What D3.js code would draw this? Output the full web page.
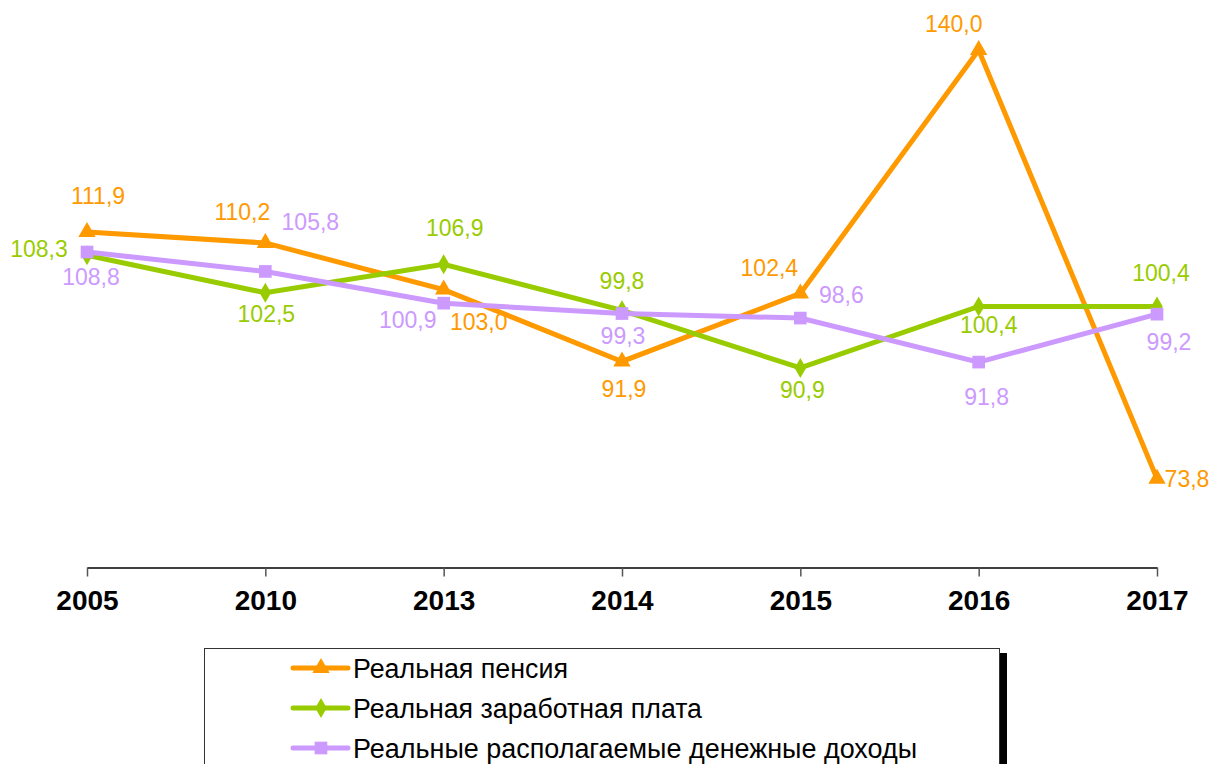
<!DOCTYPE html>
<html>
<head>
<meta charset="utf-8">
<script src="https://cdn.jsdelivr.net/npm/d3@7"></script>
<style>
  body { margin: 0; background: #fff; }
  svg { display: block; font-family: "Liberation Sans", Arial, sans-serif; }
</style>
</head>
<body>
<div class="vis-line-chart"></div>
<script>
const years = ['2005', '2010', '2013', '2014', '2015', '2016', '2017'];
const pension = [111.9, 110.2, 103.0, 91.9, 102.4, 140.0, 73.8];
const wages = [108.3, 102.5, 106.9, 99.8, 90.9, 100.4, 100.4];
const incomes = [108.8, 105.8, 100.9, 99.3, 98.6, 91.8, 99.2];
const seriesNames = ['Реальная пенсия', 'Реальная заработная плата', 'Реальные располагаемые денежные доходы'];

// label offsets from each point (dx, dy to baseline)
const pensionLabelPos = [[11, -28], [-23, -23], [35, 40], [2, 36], [-31, -17], [-25, -18], [30, 8]];
const wagesLabelPos = [[-48, 2], [1, 29], [11, -28], [0, -21], [2, 30], [10, 27], [4, -25]];
const incomesLabelPos = [[4, 33], [45, -41], [-36, 25], [1, 30], [41, -15], [8, 43], [12, 36]];

const width = 1213, height = 764;

const svg = d3.select('.vis-line-chart')
    .append('svg')
    .attr('width', width)
    .attr('height', height);

const x = d3.scalePoint()
    .domain(years)
    .range([87, 1157]);

const y = d3.scaleLinear()
    .domain([60, 140])
    .range([568, 50]);

// x axis
const axis = svg.append('g')
    .attr('transform', 'translate(0,' + 567.5 + ')')
    .call(d3.axisBottom(x).tickSize(9).tickPadding(14).tickSizeOuter(0));
axis.select('.domain').attr('stroke', '#000').attr('stroke-width', 1.5);
axis.selectAll('.tick line').attr('stroke', '#555').attr('stroke-width', 1.5);
axis.selectAll('.tick text')
    .attr('fill', '#000')
    .style('font-size', '28px')
    .style('font-weight', 'bold')
    .style('font-family', '"Liberation Sans", Arial, sans-serif');

const series = [
    {name: seriesNames[0], values: pension, pos: pensionLabelPos, color: '#FF9900', marker: d3.symbolTriangle, size: 130},
    {name: seriesNames[1], values: wages, pos: wagesLabelPos, color: '#99CC00', marker: d3.symbolDiamond, size: 115},
    {name: seriesNames[2], values: incomes, pos: incomesLabelPos, color: '#CC99FF', marker: d3.symbolSquare, size: 160},
];

const line = d3.line()
    .x((d, i) => x(years[i]))
    .y(d => y(d));

series.forEach(s => {
    const g = svg.append('g');
    g.append('path')
        .datum(s.values)
        .attr('d', line)
        .attr('fill', 'none')
        .attr('stroke', s.color)
        .attr('stroke-width', 5)
        .attr('stroke-linejoin', 'miter');

    g.selectAll('path.marker')
        .data(s.values)
        .enter().append('path')
        .attr('class', 'marker')
        .attr('d', d3.symbol().type(s.marker).size(s.size))
        .attr('transform', (d, i) => 'translate(' + x(years[i]) + ',' + y(d) + ')')
        .attr('fill', s.color);
});

// data labels on top
series.forEach(s => {
    svg.append('g').selectAll('text')
        .data(s.values)
        .enter().append('text')
        .attr('x', (d, i) => x(years[i]) + s.pos[i][0])
        .attr('y', (d, i) => y(d) + s.pos[i][1])
        .attr('text-anchor', 'middle')
        .attr('fill', s.color)
        .style('font-size', '23px')
        .text(d => d.toFixed(1).replace('.', ','));
});

// legend
const legend = svg.append('g');
legend.append('rect')
    .attr('x', 1000).attr('y', 653)
    .attr('width', 7).attr('height', 120)
    .attr('fill', '#000');
legend.append('rect')
    .attr('x', 204.5).attr('y', 648.5)
    .attr('width', 795).attr('height', 130)
    .attr('fill', '#fff')
    .attr('stroke', '#333')
    .attr('stroke-width', 1);

const textWidths = [215, 349, 564];
const legendG = legend.selectAll('.legend')
    .data(series)
    .enter().append('g')
    .attr('class', 'legend')
    .attr('transform', (d, i) => 'translate(0,' + (668 + i * 40) + ')');

legendG.append('line')
    .attr('x1', 293).attr('x2', 348)
    .attr('y1', 0).attr('y2', 0)
    .attr('stroke', d => d.color)
    .attr('stroke-width', 5)
    .attr('stroke-linecap', 'round');

legendG.append('path')
    .attr('d', d => d3.symbol().type(d.marker).size(d.size)())
    .attr('transform', 'translate(321,0)')
    .attr('fill', d => d.color);

legendG.append('text')
    .attr('x', 353)
    .attr('y', 10)
    .attr('fill', '#000')
    .attr('textLength', (d, i) => textWidths[i])
    .attr('lengthAdjust', 'spacingAndGlyphs')
    .style('font-size', '27px')
    .text(d => d.name);
</script>
</body>
</html>
